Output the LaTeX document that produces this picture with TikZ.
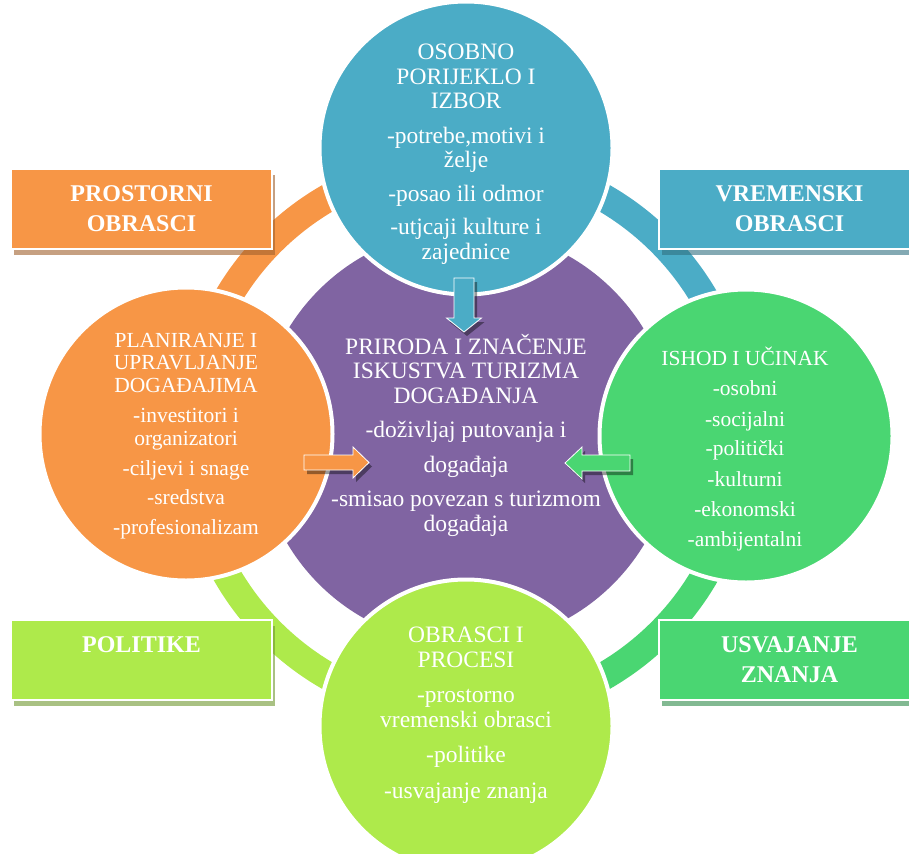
\documentclass[tikz,border=0pt]{standalone}
\usepackage{fontspec}
\setmainfont{Liberation Serif}
\usetikzlibrary{shadows}
\definecolor{plava}{HTML}{4BACC6}
\definecolor{narancasta}{HTML}{F79646}
\definecolor{ljubicasta}{HTML}{8064A2}
\definecolor{zelena}{HTML}{4AD672}
\definecolor{limeta}{HTML}{AEEA4B}
\begin{document}
\begin{tikzpicture}[x=1pt, y=-1pt,
  krug/.style={circle, minimum size=293pt, inner sep=0pt, draw=white, line width=4pt},
  tekst/.style={text=white, align=center, inner sep=0pt, font=\fontsize{23.5}{24.5}\selectfont},
  sitno/.style={tekst, font=\fontsize{21.5}{22.5}\selectfont},
  okvir/.style={rectangle, minimum width=261pt, minimum height=80pt, inner sep=0pt,
    draw=white, line width=1.5pt, text=white, align=center,
    font=\fontsize{24}{30}\selectfont\bfseries,
    drop shadow={shadow xshift=3pt, shadow yshift=-6pt, fill=#1!65!black, opacity=.6}, fill=#1},
  strelica/.style={fill=#1, draw=white, line width=.8pt,
    drop shadow={shadow xshift=3pt, shadow yshift=-4pt, fill=black, opacity=.4}},
  prsten/.style={line width=28pt, #1}]
\useasboundingbox (0,0) rectangle (909,853);
\fill[white] (0,0) rectangle (909,853);
% vanjski prsten
\draw[prsten=narancasta] (466,437) ++(180:276) arc[start angle=180, end angle=270, radius=276];
\draw[prsten=plava] (466,437) ++(270:276) arc[start angle=270, end angle=360, radius=276];
\draw[prsten=zelena] (466,437) ++(0:276) arc[start angle=0, end angle=90, radius=276];
\draw[prsten=limeta] (466,437) ++(90:276) arc[start angle=90, end angle=180, radius=276];
% okviri
\node[okvir=narancasta] (prostorni) at (141.5,209) {PROSTORNI\\OBRASCI};
\node[okvir=plava] (vremenski) at (789.5,209) {VREMENSKI\\OBRASCI};
\node[okvir=limeta] (politike) at (141.5,660) {POLITIKE\\\mbox{}};
\node[okvir=zelena] (usvajanje) at (789.5,660) {USVAJANJE\\ZNANJA};
% sredina i krugovi
\node[circle, fill=ljubicasta, minimum size=416pt, inner sep=0pt] (priroda) at (466,437) {};
\node[krug, fill=plava] (osobno) at (466,148) {};
\node[krug, fill=narancasta] (planiranje) at (186,434) {};
\node[krug, fill=zelena] (ishod) at (746,436) {};
\node[krug, fill=limeta] (obrasci) at (466,726) {};
% strelice
\draw[strelica=plava] (454,278) -- (474,278) -- (474,318) -- (481.5,318) -- (464,332) -- (446.5,318) -- (454,318) -- cycle;
\draw[strelica=narancasta] (304,455) -- (353,455) -- (353,447) -- (369,462.5) -- (353,478) -- (353,470) -- (304,470) -- cycle;
\draw[strelica=zelena] (630,455) -- (582,455) -- (582,447) -- (565,463) -- (582,479) -- (582,471) -- (630,471) -- cycle;
% tekstovi
\node[tekst] (osobnoTxt) at (466,154) {OSOBNO\\PORIJEKLO I\\IZBOR\\[10pt]-potrebe,motivi i\\želje\\[9pt]-posao ili odmor\\[9pt]-utjcaji kulture i\\zajednice};
\node[tekst] (prirodaTxt) at (466,435) {PRIRODA I ZNAČENJE\\ISKUSTVA TURIZMA\\DOGAĐANJA\\[10pt]-doživljaj putovanja i\\[10pt]događaja\\[10pt]-smisao povezan s turizmom\\događaja};
\node[sitno] (planiranjeTxt) at (186,436) {PLANIRANJE I\\UPRAVLJANJE\\DOGAĐAJIMA\\[8pt]-investitori i\\organizatori\\[8pt]-ciljevi i snage\\[6pt]-sredstva\\[8pt]-profesionalizam};
\node[sitno] (ishodTxt) at (745,449) {ISHOD I UČINAK\\[8pt]-osobni\\[8pt]-socijalni\\[7pt]-politički\\[8pt]-kulturni\\[8pt]-ekonomski\\[7pt]-ambijentalni};
\node[tekst] (obrasciTxt) at (466,715) {OBRASCI I\\PROCESI\\[11pt]-prostorno\\vremenski obrasci\\[11pt]-politike\\[11pt]-usvajanje znanja};
\end{tikzpicture}
\end{document}
